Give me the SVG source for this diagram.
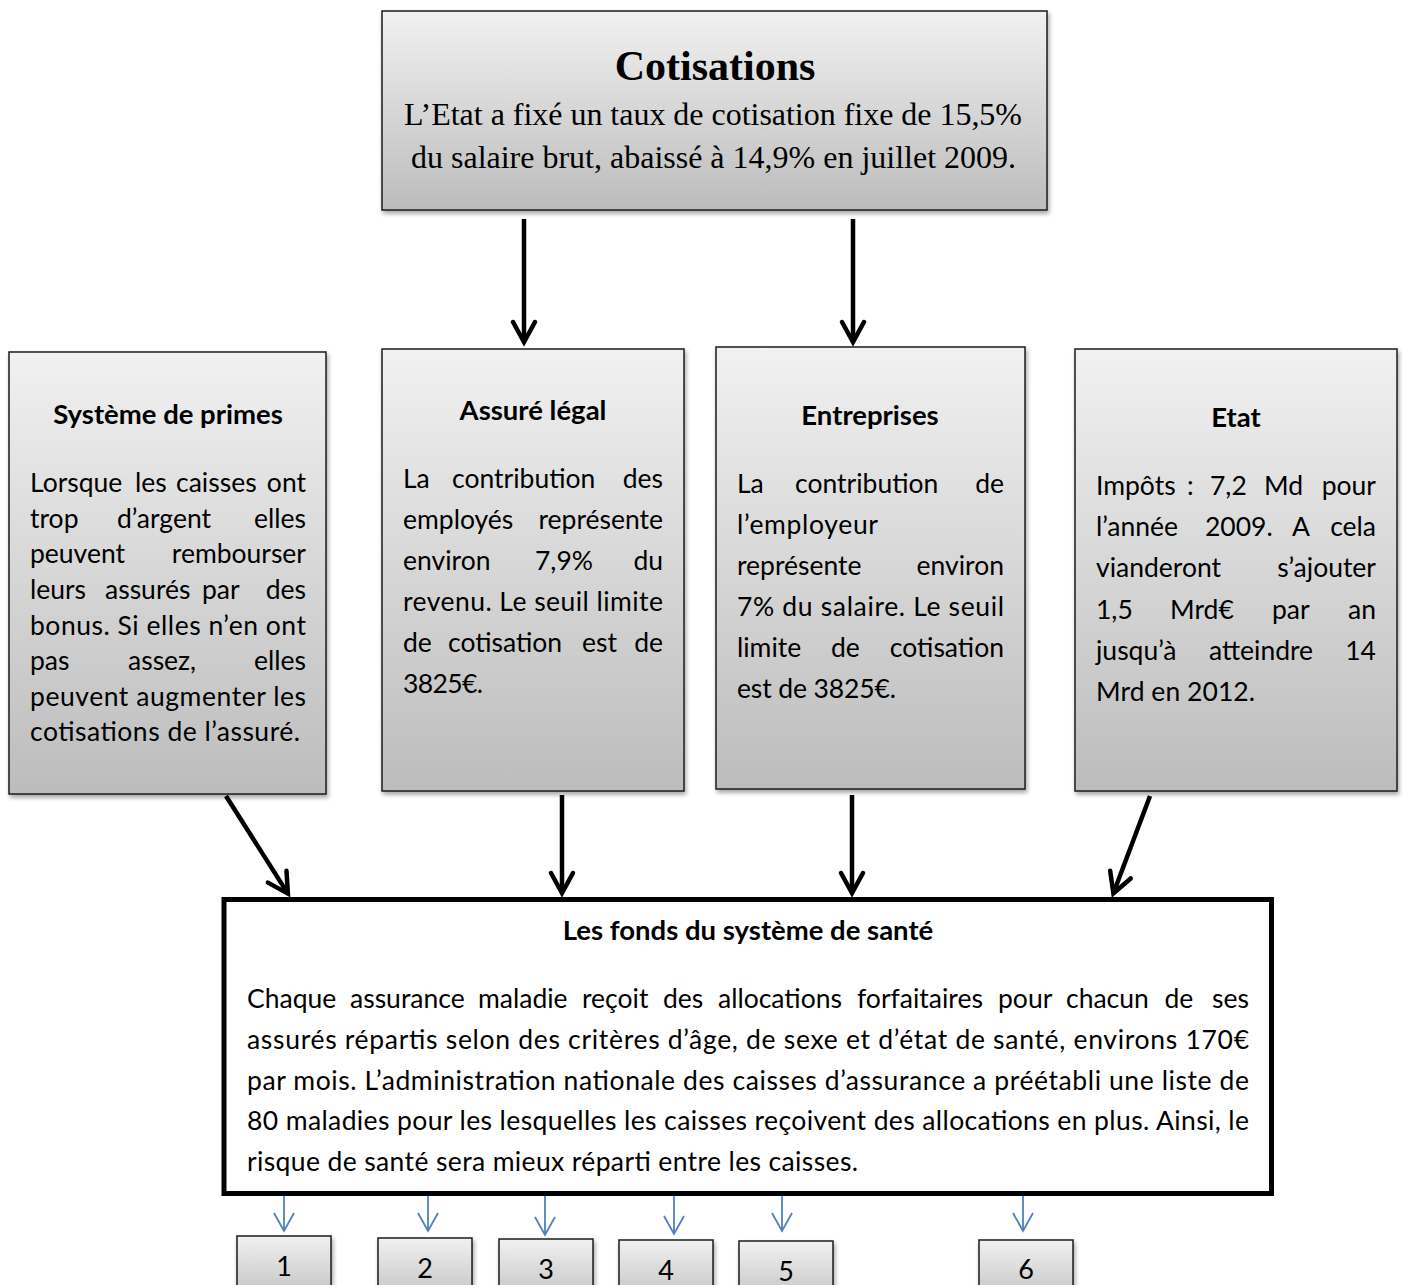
<svg xmlns="http://www.w3.org/2000/svg" width="1403" height="1285" viewBox="0 0 1403 1285">
  <style>
    .box { fill: url(#grey); stroke: #1c1c1c; stroke-width: 1.5; filter: url(#shadow); }
    .fund { fill: #ffffff; stroke: #000000; stroke-width: 5; }
    .t { font-family: Lato, "Noto Sans", "Liberation Sans", sans-serif; font-size: 26.5px; fill: #000000; }
    .h { font-family: Lato, "Noto Sans", "Liberation Sans", sans-serif; font-size: 27.5px; font-weight: bold; text-anchor: middle; fill: #000000; }
    .e { text-anchor: end; }
    .num { font-family: Lato, "Noto Sans", "Liberation Sans", sans-serif; font-size: 27px; text-anchor: middle; fill: #000000; }
    .st { font-family: "Liberation Serif", "Times New Roman", serif; fill: #000000; text-anchor: middle; }
    .flow { stroke: #000000; stroke-width: 4.5; fill: none; marker-end: url(#head); }
    .split { stroke: #4f81bd; stroke-width: 1.8; fill: none; marker-end: url(#headBlue); }
  </style>
  <defs>
    <linearGradient id="grey" x1="0" y1="0" x2="0" y2="1">
      <stop offset="0" stop-color="#f1f1f1"/>
      <stop offset="1" stop-color="#bcbcbc"/>
    </linearGradient>
    <filter id="shadow" x="-5%" y="-5%" width="115%" height="115%">
      <feDropShadow dx="1.5" dy="3" stdDeviation="2" flood-color="#000000" flood-opacity="0.35"/>
    </filter>
    <marker id="head" markerUnits="userSpaceOnUse" viewBox="-30 -16 40 32" refX="0" refY="0" markerWidth="40" markerHeight="32" orient="auto" overflow="visible">
      <path d="M-20,-11 L0,0 L-20,11" fill="none" stroke="#000000" stroke-width="4.5" stroke-linecap="round" stroke-linejoin="miter"/>
    </marker>
    <marker id="headBlue" markerUnits="userSpaceOnUse" viewBox="-24 -12 30 24" refX="0" refY="0" markerWidth="30" markerHeight="24" orient="auto" overflow="visible">
      <path d="M-18,-10 L0,0 L-18,10" fill="none" stroke="#4f81bd" stroke-width="1.8" stroke-linejoin="miter"/>
    </marker>
  </defs>

  <!-- connectors -->
  <g id="connectors">
    <line class="flow" x1="524" y1="219" x2="524" y2="342"/>
    <line class="flow" x1="853" y1="219" x2="853" y2="342"/>
    <line class="flow" x1="226" y1="796" x2="287.9" y2="893.6"/>
    <line class="flow" x1="562" y1="795" x2="562" y2="893"/>
    <line class="flow" x1="852" y1="795" x2="852" y2="893"/>
    <line class="flow" x1="1150" y1="796" x2="1113.4" y2="893.3"/>
    <line class="split" x1="284" y1="1194" x2="284" y2="1231"/>
    <line class="split" x1="428" y1="1194" x2="428" y2="1231"/>
    <line class="split" x1="545" y1="1194" x2="545" y2="1235"/>
    <line class="split" x1="674" y1="1194" x2="674" y2="1234"/>
    <line class="split" x1="782" y1="1194" x2="782" y2="1231"/>
    <line class="split" x1="1023" y1="1194" x2="1023" y2="1231"/>
  </g>

  <!-- contribution rate -->
  <g id="cotisations">
    <rect class="box" x="382" y="11" width="665" height="199"/>
    <text class="st" x="715" y="80" font-size="42" font-weight="bold">Cotisations</text>
    <text class="st" x="713" y="125" font-size="32" textLength="618" lengthAdjust="spacing">L’Etat a fixé un taux de cotisation fixe de 15,5%</text>
    <text class="st" x="713.5" y="168" font-size="32" textLength="605" lengthAdjust="spacing">du salaire brut, abaissé à 14,9% en juillet 2009.</text>
  </g>

  <!-- bonus system -->
  <g id="primes">
    <rect class="box" x="9" y="352" width="317" height="442"/>
    <text class="h" x="168" y="424">Système de primes</text>
    <text class="t" y="492"><tspan x="30">Lorsque</tspan> <tspan x="135">les</tspan> <tspan x="176">caisses</tspan> <tspan class="e" x="306">ont</tspan></text>
    <text class="t" y="528"><tspan x="30">trop</tspan> <tspan x="117">d’argent</tspan> <tspan class="e" x="306">elles</tspan></text>
    <text class="t" y="563"><tspan x="30">peuvent</tspan> <tspan class="e" x="306">rembourser</tspan></text>
    <text class="t" y="599"><tspan x="30">leurs</tspan> <tspan x="105">assurés</tspan> <tspan x="202">par</tspan> <tspan class="e" x="306">des</tspan></text>
    <text class="t" x="30" y="635" textLength="276" lengthAdjust="spacing">bonus. Si elles n’en ont</text>
    <text class="t" y="670"><tspan x="30">pas</tspan> <tspan x="128">assez,</tspan> <tspan class="e" x="306">elles</tspan></text>
    <text class="t" x="30" y="706" textLength="276" lengthAdjust="spacing">peuvent augmenter les</text>
    <text class="t" x="30" y="741" textLength="270" lengthAdjust="spacing">cotisations de l’assuré.</text>
  </g>

  <!-- insured employees -->
  <g id="assure">
    <rect class="box" x="382" y="349" width="302" height="442"/>
    <text class="h" x="533" y="420">Assuré légal</text>
    <text class="t" y="488"><tspan x="403">La</tspan> <tspan x="452">contribution</tspan> <tspan class="e" x="663">des</tspan></text>
    <text class="t" y="529"><tspan x="403">employés</tspan> <tspan class="e" x="663">représente</tspan></text>
    <text class="t" y="570"><tspan x="403">environ</tspan> <tspan x="535">7,9%</tspan> <tspan class="e" x="663">du</tspan></text>
    <text class="t" x="403" y="611" textLength="260" lengthAdjust="spacing">revenu. Le seuil limite</text>
    <text class="t" y="652"><tspan x="403">de</tspan> <tspan x="448">cotisation</tspan> <tspan x="582">est</tspan> <tspan class="e" x="663">de</tspan></text>
    <text class="t" x="403" y="693" textLength="80" lengthAdjust="spacing">3825€.</text>
  </g>

  <!-- employers -->
  <g id="entreprises">
    <rect class="box" x="716" y="347" width="309" height="442"/>
    <text class="h" x="870" y="425">Entreprises</text>
    <text class="t" y="493"><tspan x="737">La</tspan> <tspan x="795">contribution</tspan> <tspan class="e" x="1004">de</tspan></text>
    <text class="t" x="737" y="534" textLength="141" lengthAdjust="spacing">l’employeur</text>
    <text class="t" y="575"><tspan x="737">représente</tspan> <tspan class="e" x="1004">environ</tspan></text>
    <text class="t" x="737" y="616" textLength="267" lengthAdjust="spacing">7% du salaire. Le seuil</text>
    <text class="t" y="657"><tspan x="737">limite</tspan> <tspan x="831">de</tspan> <tspan class="e" x="1004">cotisation</tspan></text>
    <text class="t" x="737" y="698" textLength="159" lengthAdjust="spacing">est de 3825€.</text>
  </g>

  <!-- state -->
  <g id="etat">
    <rect class="box" x="1075" y="349" width="322" height="442"/>
    <text class="h" x="1236" y="427">Etat</text>
    <text class="t" y="495"><tspan x="1096">Impôts</tspan> <tspan x="1187">:</tspan> <tspan x="1210">7,2</tspan> <tspan x="1264">Md</tspan> <tspan class="e" x="1376">pour</tspan></text>
    <text class="t" y="536"><tspan x="1096">l’année</tspan> <tspan x="1205">2009.</tspan> <tspan x="1292">A</tspan> <tspan class="e" x="1376">cela</tspan></text>
    <text class="t" y="577"><tspan x="1096">vianderont</tspan> <tspan class="e" x="1376">s’ajouter</tspan></text>
    <text class="t" y="619"><tspan x="1096">1,5</tspan> <tspan x="1170">Mrd€</tspan> <tspan x="1272">par</tspan> <tspan class="e" x="1376">an</tspan></text>
    <text class="t" y="660"><tspan x="1096">jusqu’à</tspan> <tspan x="1209">atteindre</tspan> <tspan class="e" x="1376">14</tspan></text>
    <text class="t" x="1096" y="701" textLength="159" lengthAdjust="spacing">Mrd en 2012.</text>
  </g>

  <!-- health fund -->
  <g id="fonds">
    <rect class="fund" x="224" y="899.5" width="1047.5" height="294"/>
    <text class="h" x="748" y="940">Les fonds du système de santé</text>
    <text class="t" y="1008"><tspan x="247">Chaque</tspan> <tspan x="350">assurance</tspan> <tspan x="478">maladie</tspan> <tspan x="582">reçoit</tspan> <tspan x="663">des</tspan> <tspan x="718">allocations</tspan> <tspan x="857">forfaitaires</tspan> <tspan x="998">pour</tspan> <tspan x="1066">chacun</tspan> <tspan x="1164.5">de</tspan> <tspan class="e" x="1249">ses</tspan></text>
    <text class="t" x="247" y="1049" textLength="1002" lengthAdjust="spacing">assurés répartis selon des critères d’âge, de sexe et d’état de santé, environs 170€</text>
    <text class="t" x="247" y="1090" textLength="1002" lengthAdjust="spacing">par mois. L’administration nationale des caisses d’assurance a préétabli une liste de</text>
    <text class="t" x="247" y="1130" textLength="1002" lengthAdjust="spacing">80 maladies pour les lesquelles les caisses reçoivent des allocations en plus. Ainsi, le</text>
    <text class="t" x="247" y="1171" textLength="611" lengthAdjust="spacing">risque de santé sera mieux réparti entre les caisses.</text>
  </g>

  <!-- numbered funds -->
  <g id="n1">
    <rect class="box" x="237" y="1236" width="94" height="70"/>
    <text class="num" x="284" y="1276">1</text>
  </g>
  <g id="n2">
    <rect class="box" x="378" y="1238" width="94" height="70"/>
    <text class="num" x="425" y="1278">2</text>
  </g>
  <g id="n3">
    <rect class="box" x="499" y="1239" width="94" height="70"/>
    <text class="num" x="546" y="1279">3</text>
  </g>
  <g id="n4">
    <rect class="box" x="619" y="1240" width="94" height="70"/>
    <text class="num" x="666" y="1280">4</text>
  </g>
  <g id="n5">
    <rect class="box" x="739" y="1241" width="94" height="70"/>
    <text class="num" x="786" y="1281">5</text>
  </g>
  <g id="n6">
    <rect class="box" x="979" y="1240" width="94" height="70"/>
    <text class="num" x="1026" y="1279">6</text>
  </g>
</svg>
